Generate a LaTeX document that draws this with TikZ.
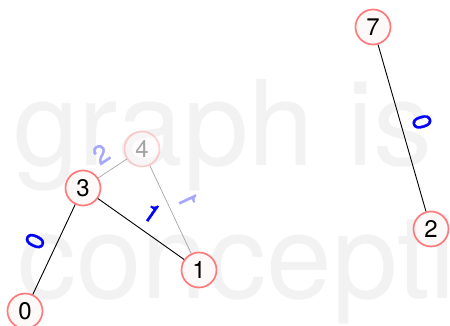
\documentclass[tikz,border=0pt]{standalone}
\usepackage{fontspec}
\setmainfont{TeX Gyre Heros}
\newfontfamily\weightfont[FakeBold=1.2]{TeX Gyre Heros}
\definecolor{nodered}{HTML}{FF7B7B}
\definecolor{nodefill}{HTML}{FDF9F9}
\definecolor{wmgray}{HTML}{F2F2F2}
\begin{document}
\begin{tikzpicture}[x=1pt,y=-1pt,
  vert/.style={circle, draw=nodered, fill=nodefill, line width=1.7pt,
    minimum size=35pt, inner sep=0pt, font=\fontsize{24}{24}\selectfont},
  ghost/.style={vert, draw opacity=0.35, fill opacity=0.5, text opacity=0.35},
  edge/.style={black, line width=0.9pt},
  ghostedge/.style={black!35, line width=0.7pt},
  lab/.style={text=blue, font=\weightfont\fontsize{26}{26}\selectfont, inner sep=0pt},
  ghostlab/.style={lab, text=blue!35},
  wm/.style={text=wmgray, font=\fontsize{118}{118}\selectfont,
    anchor=base west, inner sep=0pt}
]
\useasboundingbox (0,0) rectangle (450,326);
\clip (0,0) rectangle (450,326);

% background lettering
\node[wm] (wm1) at (13,165) {graph is};
\node[wm] (wm2) at (17,298) {concepti};

% vertices
\node[vert]  (n7) at (373,27)  {7};
\node[vert]  (n2) at (431,229) {2};
\node[ghost] (n4) at (142,149) {4};
\node[vert]  (n3) at (83,188)  {3};
\node[vert]  (n1) at (199,270) {1};
\node[vert]  (n0) at (25,311)  {0};

% edges
\draw[edge] (n3) -- (n0);
\draw[edge] (n3) -- (n1);
\draw[edge] (n7) -- (n2);
\draw[ghostedge] (n4) -- (n3);
\draw[ghostedge] (n4) -- (n1);

% edge weights
\node[lab, rotate=64.7] (w30) at (35,241) {0};
\node[lab, rotate=-35] (w31) at (152,213) {1};
\node[lab, rotate=-74] (w72) at (422,122) {0};
\node[ghostlab, rotate=33] (w43) at (101,154) {2};
\node[ghostlab, rotate=-65, xscale=-1] (w41) at (188,200) {1};
\end{tikzpicture}
\end{document}
